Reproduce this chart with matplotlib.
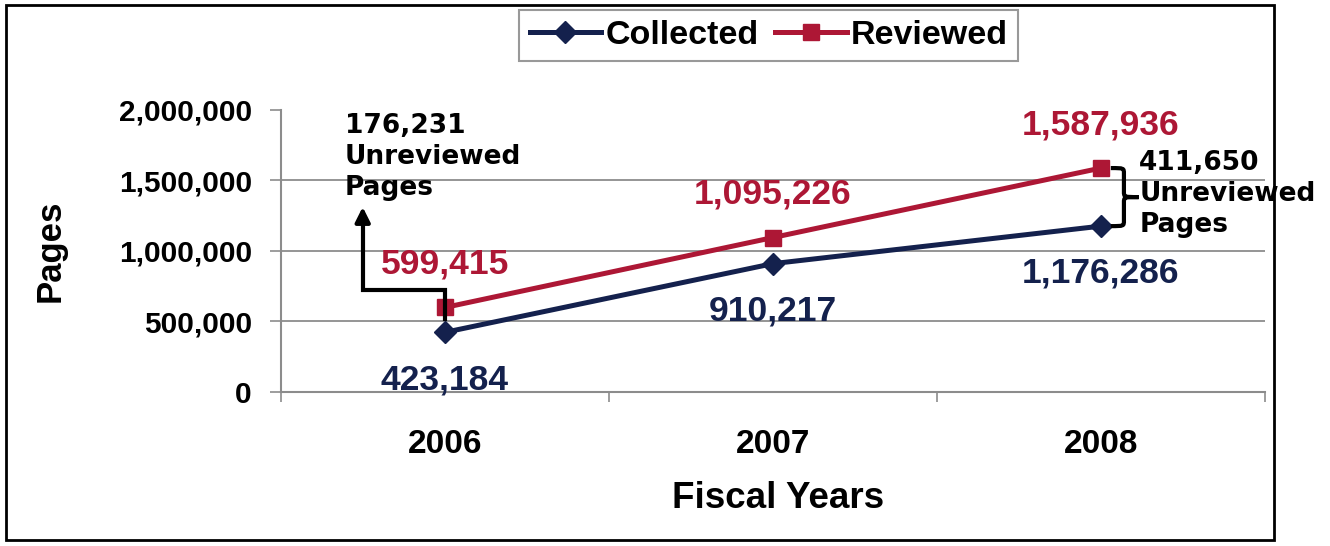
import numpy as np
import matplotlib
matplotlib.use('Agg')
import matplotlib.pyplot as plt
from matplotlib.path import Path
from matplotlib.patches import PathPatch, Rectangle

years = ['2006', '2007', '2008']
collected = [423184, 910217, 1176286]
reviewed = [599415, 1095226, 1587936]
unreviewed = [176231, 411650]
yticks = [0, 500000, 1000000, 1500000, 2000000]

navy = '#14214d'
red = '#ad1735'
grid_c = '#8c8c8c'
num_font = 'Liberation Sans'
note_font = 'DejaVu Sans'

fig = plt.figure(figsize=(13.3, 5.46), dpi=100)
ax = fig.add_axes([0.2113, 0.2821, 0.7398, 0.5165])

x = np.arange(len(years))
ax.plot(x, collected, color=navy, lw=3.6, marker='D', ms=11, label='Collected', zorder=5)
ax.plot(x, reviewed, color=red, lw=3.6, marker='s', ms=11, label='Reviewed', zorder=5)

ax.set_xlim(-0.5, 2.5)
ax.set_ylim(0, 2000000)
ax.set_yticks(yticks)
ax.set_yticklabels([f'{v:,}' for v in yticks], fontfamily=num_font,
                   fontweight='bold', fontsize=21.5)
ax.set_xticks(x)
ax.set_xticklabels(years, fontfamily=num_font, fontweight='bold', fontsize=24)
ax.set_xticks([-0.5, 0.5, 1.5, 2.5], minor=True)
ax.tick_params(axis='x', which='major', length=0, pad=27)
ax.tick_params(axis='x', which='minor', length=7, width=1.2, color=grid_c, direction='out')
ax.tick_params(axis='y', length=8, width=1.2, color=grid_c, pad=13)

for s in ['top', 'right']:
    ax.spines[s].set_visible(False)
for s in ['left', 'bottom']:
    ax.spines[s].set_color(grid_c)
    ax.spines[s].set_linewidth(1.5)

ax.yaxis.grid(True, color=grid_c, lw=1.3)
ax.yaxis.get_gridlines()[-1].set_visible(False)
ax.set_axisbelow(True)

ax.set_xlabel('Fiscal Years', fontfamily=num_font, fontweight='bold', fontsize=26.5)
ax.xaxis.set_label_coords(0.505, -0.315)
ax.set_ylabel('Pages', fontfamily=num_font, fontweight='bold', fontsize=25)
ax.yaxis.set_label_coords(-0.218, 0.5)

# value labels
for xi, v in zip(x, reviewed):
    ax.annotate(f'{v:,}', (xi, v), xytext=(0, 31), textcoords='offset points',
                ha='center', va='center', color=red, fontfamily=num_font,
                fontweight='bold', fontsize=25.5)
for xi, v in zip(x, collected):
    ax.annotate(f'{v:,}', (xi, v), xytext=(0, -34), textcoords='offset points',
                ha='center', va='center', color=navy, fontfamily=num_font,
                fontweight='bold', fontsize=25.5)

# 2006 callout with elbow arrow
ax.plot([0, 0, -0.251, -0.251], [520000, 723000, 723000, 1250000],
        color='black', lw=3, zorder=6, solid_joinstyle='miter')
ax.annotate('', xy=(-0.251, 1312000), xytext=(-0.251, 1200000),
            arrowprops=dict(arrowstyle='-|>', lw=3, color='black', mutation_scale=22,
                            shrinkA=0, shrinkB=0), zorder=6)
ax.text(-0.305, 1975000, f'{unreviewed[0]:,}\nUnreviewed\nPages', ha='left', va='top',
        fontfamily=note_font, fontweight='bold', fontsize=19, linespacing=1.25,
        clip_on=False)

# 2008 brace
top, bot = reviewed[2], collected[2]
mid = (top + bot) / 2
x0, x1, x2 = 2.03, 2.07, 2.115
d = 40000
verts = [(x0, top), (x1, top), (x1, top), (x1, top - d),
         (x1, mid + d),
         (x1, mid), (x1, mid), (x2, mid),
         (x1, mid), (x1, mid), (x1, mid - d),
         (x1, bot + d),
         (x1, bot), (x1, bot), (x0, bot)]
codes = [Path.MOVETO, Path.CURVE4, Path.CURVE4, Path.CURVE4,
         Path.LINETO,
         Path.CURVE4, Path.CURVE4, Path.CURVE4,
         Path.CURVE4, Path.CURVE4, Path.CURVE4,
         Path.LINETO,
         Path.CURVE4, Path.CURVE4, Path.CURVE4]
ax.add_patch(PathPatch(Path(verts, codes), facecolor='none', edgecolor='black',
                       lw=3, clip_on=False, zorder=6))
ax.text(2.117, 1715000, f'{unreviewed[1]:,}\nUnreviewed\nPages', ha='left', va='top',
        fontfamily=note_font, fontweight='bold', fontsize=19, linespacing=1.25,
        clip_on=False)

leg = ax.legend(loc='upper center', bbox_to_anchor=(0.578, 0.982),
                bbox_transform=fig.transFigure, ncol=2, frameon=True, fancybox=False,
                prop=dict(family=num_font, weight='bold', size=24.5),
                handlelength=2.1, handletextpad=0.12, columnspacing=0.5,
                borderpad=0.3, borderaxespad=0)
leg.get_frame().set_edgecolor('#808080')
leg.get_frame().set_linewidth(1.5)

fig.patches.append(Rectangle((0.0045, 0.011), 0.9534, 0.98, transform=fig.transFigure,
                             fill=False, edgecolor='black', lw=2))

fig.savefig('out.png', dpi=100)
